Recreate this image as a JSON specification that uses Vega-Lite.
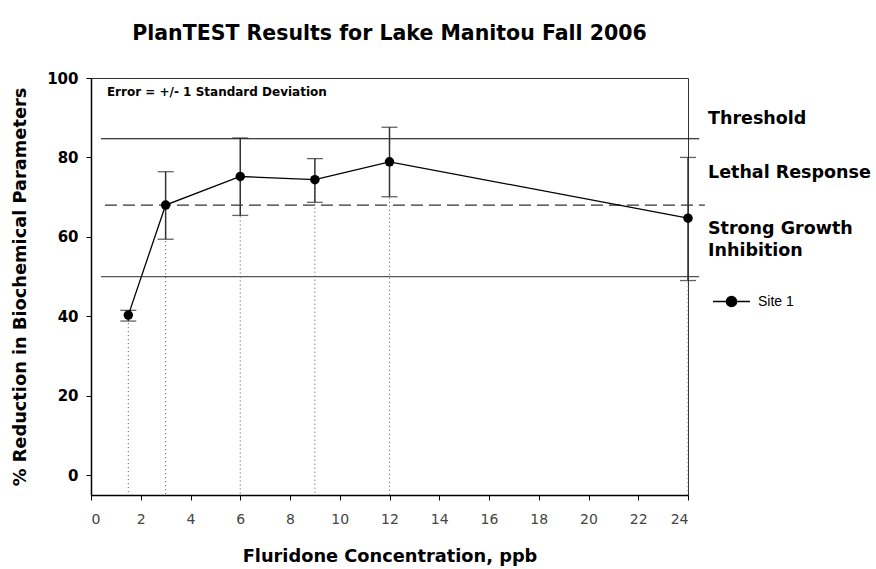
{
  "$schema": "https://vega.github.io/schema/vega-lite/v6.json",
  "autosize": "none",
  "width": 597,
  "height": 417,
  "padding": {"left": 91, "top": 78, "right": 188, "bottom": 74},
  "background": "white",
  "title": {
    "text": "PlanTEST Results for Lake Manitou Fall 2006",
    "font": "DejaVu Sans",
    "fontSize": 20.5,
    "fontWeight": "bold",
    "color": "black",
    "anchor": "middle",
    "offset": 27
  },
  "config": {
    "view": {"stroke": "#333", "strokeWidth": 1},
    "axis": {"grid": false, "domainColor": "black", "domainWidth": 1.5, "tickColor": "black", "tickSize": 5}
  },
  "datasets": {
    "pts": [
      {"conc": 1.5, "pct": 40.3, "lo": 38.8, "hi": 41.5, "series": "Site 1"},
      {"conc": 3, "pct": 68.0, "lo": 59.4, "hi": 76.4, "series": "Site 1"},
      {"conc": 6, "pct": 75.2, "lo": 65.4, "hi": 84.9, "series": "Site 1"},
      {"conc": 9, "pct": 74.4, "lo": 68.7, "hi": 79.7, "series": "Site 1"},
      {"conc": 12, "pct": 78.9, "lo": 70.1, "hi": 87.6, "series": "Site 1"},
      {"conc": 24, "pct": 64.7, "lo": 49.0, "hi": 80.0, "series": "Site 1"}
    ],
    "solidlines": [
      {"level": 84.7, "x1": 0.4, "x2": 24.45, "col": "black"},
      {"level": 50, "x1": 0.4, "x2": 24.45, "col": "#555555"}
    ],
    "dashline": [
      {"level": 68, "x1": 0.56, "x2": 24.68}
    ],
    "zones": [
      {"label": ["Threshold"], "yv": 89.8},
      {"label": ["Lethal Response"], "yv": 76.1},
      {"label": ["Strong Growth", "Inhibition"], "yv": 62.0}
    ],
    "note": [
      {"label": "Error  = +/- 1 Standard Deviation", "xv": 0.64, "yv": 96.4}
    ]
  },
  "layer": [
    {
      "data": {"name": "pts"},
      "mark": {"type": "rule", "strokeDash": [1, 3], "color": "#555", "strokeWidth": 1},
      "encoding": {
        "x": {"field": "conc", "type": "quantitative"},
        "y": {"field": "pct", "type": "quantitative"},
        "y2": {"datum": -5}
      }
    },
    {
      "data": {"name": "solidlines"},
      "mark": {"type": "rule", "strokeWidth": 1.2},
      "encoding": {
        "x": {"field": "x1", "type": "quantitative"},
        "x2": {"field": "x2"},
        "y": {"field": "level", "type": "quantitative"},
        "color": {"field": "col", "type": "nominal", "scale": null}
      }
    },
    {
      "data": {"name": "dashline"},
      "mark": {"type": "rule", "strokeDash": [12, 6], "color": "#333", "strokeWidth": 1.2},
      "encoding": {
        "x": {"field": "x1", "type": "quantitative"},
        "x2": {"field": "x2"},
        "y": {"field": "level", "type": "quantitative"}
      }
    },
    {
      "data": {"name": "pts"},
      "mark": {"type": "rule", "color": "#333", "strokeWidth": 1.5},
      "encoding": {
        "x": {"field": "conc", "type": "quantitative"},
        "y": {"field": "lo", "type": "quantitative"},
        "y2": {"field": "hi"}
      }
    },
    {
      "data": {"name": "pts"},
      "mark": {"type": "tick", "orient": "horizontal", "size": 16, "thickness": 1.3, "color": "#222"},
      "encoding": {
        "x": {"field": "conc", "type": "quantitative"},
        "y": {"field": "lo", "type": "quantitative"}
      }
    },
    {
      "data": {"name": "pts"},
      "mark": {"type": "tick", "orient": "horizontal", "size": 16, "thickness": 1.3, "color": "#222"},
      "encoding": {
        "x": {"field": "conc", "type": "quantitative"},
        "y": {"field": "hi", "type": "quantitative"}
      }
    },
    {
      "data": {"name": "pts"},
      "mark": {"type": "line", "strokeWidth": 1.3},
      "encoding": {
        "x": {
          "field": "conc", "type": "quantitative",
          "scale": {"domain": [0, 24], "nice": false, "zero": false},
          "axis": {
            "values": [0, 2, 4, 6, 8, 10, 12, 14, 16, 18, 20, 22, 24],
            "title": "Fluridone Concentration, ppb",
            "titleFont": "DejaVu Sans", "titleFontSize": 17.8, "titleFontWeight": "bold", "titleColor": "black",
            "titlePadding": 21,
            "labelFont": "DejaVu Sans", "labelFontSize": 14, "labelFontWeight": "normal", "labelColor": "#444",
            "labelPadding": 12
          }
        },
        "y": {
          "field": "pct", "type": "quantitative",
          "scale": {"domain": [-5, 100], "nice": false, "zero": false},
          "axis": {
            "values": [0, 20, 40, 60, 80, 100],
            "title": "% Reduction in Biochemical Parameters",
            "titleFont": "DejaVu Sans", "titleFontSize": 17.8, "titleFontWeight": "bold", "titleColor": "black",
            "titlePadding": 17,
            "labelFont": "DejaVu Sans", "labelFontSize": 15, "labelFontWeight": "bold", "labelColor": "black",
            "labelPadding": 8
          }
        },
        "color": {
          "field": "series", "type": "nominal",
          "scale": {"range": ["black"]},
          "legend": {
            "title": null,
            "orient": "none",
            "legendX": 621,
            "legendY": 204,
            "padding": 0,
            "symbolType": "M-1,0H1M-0.28,0A0.28,0.28,0,1,1,0.28,0A0.28,0.28,0,1,1,-0.28,0Z",
            "symbolSize": 1369,
            "symbolFillColor": "black",
            "symbolStrokeColor": "black",
            "symbolStrokeWidth": 1.3,
            "labelFont": "Liberation Sans",
            "labelFontSize": 14,
            "labelColor": "black",
            "labelOffset": 7
          }
        }
      }
    },
    {
      "data": {"name": "pts"},
      "mark": {"type": "point", "filled": true, "shape": "circle", "size": 90, "opacity": 1, "color": "black"},
      "encoding": {
        "x": {"field": "conc", "type": "quantitative"},
        "y": {"field": "pct", "type": "quantitative"}
      }
    },
    {
      "data": {"name": "zones"},
      "mark": {"type": "text", "align": "left", "baseline": "middle", "dx": 20, "font": "DejaVu Sans", "fontSize": 17.5, "fontWeight": "bold", "color": "black", "lineHeight": 22},
      "encoding": {
        "x": {"datum": 24},
        "y": {"field": "yv", "type": "quantitative"},
        "text": {"field": "label"}
      }
    },
    {
      "data": {"name": "note"},
      "mark": {"type": "text", "align": "left", "baseline": "middle", "font": "DejaVu Sans", "fontSize": 12, "fontWeight": "bold", "color": "black"},
      "encoding": {
        "x": {"field": "xv", "type": "quantitative"},
        "y": {"field": "yv", "type": "quantitative"},
        "text": {"field": "label"}
      }
    }
  ]
}
